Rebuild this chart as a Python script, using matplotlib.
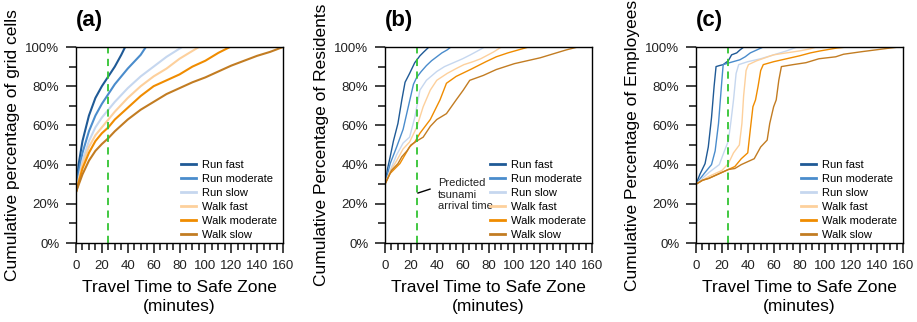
import matplotlib
matplotlib.use('Agg')
import matplotlib.pyplot as plt
from matplotlib.ticker import MultipleLocator, FuncFormatter

plt.rcParams['font.family'] = ['Liberation Sans', 'DejaVu Sans']

labels = ['Run fast', 'Run moderate', 'Run slow', 'Walk fast', 'Walk moderate', 'Walk slow']
colors = ['#1f5a96', '#4a8ccc', '#c6d7ef', '#fdd09c', '#f08c00', '#c27c22']
arrival_time = 25

# (a) grid cells
a_run_fast_t = [0, 2, 5, 10, 15, 20, 25, 30, 35, 38]
a_run_fast_p = [26, 40, 52, 65, 74, 80, 85, 90, 96, 100]
a_run_mod_t = [0, 2, 5, 10, 15, 20, 25, 30, 40, 50, 54]
a_run_mod_p = [26, 36, 46, 57, 65, 71, 76, 81, 89, 96, 100]
a_run_slow_t = [0, 5, 10, 15, 20, 25, 30, 40, 50, 60, 70, 82]
a_run_slow_p = [26, 42, 52, 59, 64, 68, 72, 79, 85, 90, 95, 100]
a_walk_fast_t = [0, 5, 10, 15, 20, 25, 30, 40, 50, 60, 70, 80, 95]
a_walk_fast_p = [26, 40, 49, 55, 59, 63, 67, 74, 80, 85, 89, 94, 100]
a_walk_mod_t = [0, 5, 10, 15, 20, 25, 30, 40, 50, 60, 70, 80, 90, 100, 110, 119]
a_walk_mod_p = [26, 38, 46, 52, 56, 59, 63, 69, 75, 80, 83, 86, 90, 93, 97, 100]
a_walk_slow_t = [0, 5, 10, 15, 20, 25, 30, 40, 50, 60, 70, 80, 90, 100, 110, 120, 130, 140, 150, 160]
a_walk_slow_p = [26, 35, 42, 47, 50.5, 53.5, 57, 63, 68, 72, 76, 79, 82, 84.5, 87.5, 90.5, 93, 95.5, 97.5, 100]

# (b) residents
b_run_fast_t = [0, 2, 4, 6.5, 10, 13, 15.5, 19, 23, 27, 30, 34]
b_run_fast_p = [30, 38, 44, 52, 61, 73, 82, 86.5, 92, 95.5, 97.5, 100]
b_run_mod_t = [0, 4, 9, 14, 18, 22, 24.5, 28, 32, 36, 40, 44, 48, 51]
b_run_mod_p = [30, 40.5, 49, 58, 69.5, 81, 84.5, 87.5, 90.5, 93, 95, 97, 98.5, 100]
b_run_slow_t = [0, 4, 9, 14, 19, 23, 27, 32, 40, 46, 53, 60, 66, 73, 77]
b_run_slow_p = [30, 37, 45, 51, 54, 64, 78, 83, 87.5, 90, 92, 94, 96, 98.5, 100]
b_walk_fast_t = [0, 4, 9, 14, 19, 24.5, 29.5, 35, 40, 48, 55, 61, 68, 74, 84, 90]
b_walk_fast_p = [30, 36.5, 42, 48, 51.5, 59, 69.5, 78, 83, 86.5, 89, 91, 92.5, 94, 97.5, 100]
b_walk_mod_t = [0, 4, 11.5, 19, 23, 27, 35, 42.5, 47.5, 55, 66, 78, 86, 95, 103, 111]
b_walk_mod_p = [30, 35.5, 40.5, 49, 51.5, 56, 63, 73, 81.5, 85, 88.5, 92.5, 95, 97, 98.5, 100]
b_walk_slow_t = [0, 5, 10, 13, 17, 20, 24.5, 29.5, 35, 40, 47.5, 55, 60.5, 65.5, 76, 86, 100, 110, 120, 130, 140, 149]
b_walk_slow_p = [30, 37, 40.5, 44, 47, 50, 52, 54, 59.5, 63, 66, 73, 78, 83, 85.5, 88.5, 91.5, 93, 94.5, 96.5, 98.5, 100]

# (c) employees
c_run_fast_t = [0, 3, 7, 9.5, 12, 14, 15.5, 18, 21, 25, 27.5, 31.5, 34, 37]
c_run_fast_p = [30, 35, 40.5, 49, 64, 80, 90, 90.5, 91, 93, 96, 97, 98.5, 100]
c_run_mod_t = [0, 4, 7, 12, 14.8, 17.4, 20, 21, 26, 34, 38, 42, 47, 52]
c_run_mod_p = [30, 33.5, 36, 40, 47, 61, 83, 91, 92, 93.5, 95, 97, 98.5, 100]
c_run_slow_t = [0, 5, 10, 18, 22, 25, 27, 29, 31, 33, 40, 50, 60, 70, 78]
c_run_slow_p = [30, 33, 36, 40, 47, 52, 62, 73, 86.5, 91, 92.5, 94, 96, 98, 100]
c_walk_fast_t = [0, 5, 10, 20, 25, 29, 33.5, 35.5, 36.8, 38.7, 40.5, 47, 60, 70, 80, 88, 93]
c_walk_fast_p = [30, 32, 34, 37, 40.5, 46, 50, 61, 75, 88, 91, 93, 96, 97, 98, 99, 100]
c_walk_mod_t = [0, 5, 10, 20, 25, 30, 35, 40, 42, 44, 46, 48, 50, 52, 60, 70, 80, 88.5, 96, 109, 117]
c_walk_mod_p = [30, 32, 33, 36, 37.5, 39, 43, 46, 58, 69.5, 73, 80, 88, 91, 92.5, 94, 95.5, 97, 98, 99.5, 100]
c_walk_slow_t = [0, 5, 10, 20, 25, 30, 35, 40, 45, 50, 55, 57, 60, 62, 64, 66, 75, 85, 95, 108, 114, 128, 148, 157]
c_walk_slow_p = [30, 32, 33, 36, 37.5, 38, 40, 41.5, 43, 49, 52.5, 61, 69.5, 73, 83, 90, 91, 92, 94, 95, 96.3, 97.6, 99.3, 100]

panels = [
    ('(a)', 'Cumulative percentage of grid cells', 1.5,
     [(a_run_fast_t, a_run_fast_p), (a_run_mod_t, a_run_mod_p), (a_run_slow_t, a_run_slow_p),
      (a_walk_fast_t, a_walk_fast_p), (a_walk_mod_t, a_walk_mod_p), (a_walk_slow_t, a_walk_slow_p)]),
    ('(b)', 'Cumulative Percentage of Residents', 1.0,
     [(b_run_fast_t, b_run_fast_p), (b_run_mod_t, b_run_mod_p), (b_run_slow_t, b_run_slow_p),
      (b_walk_fast_t, b_walk_fast_p), (b_walk_mod_t, b_walk_mod_p), (b_walk_slow_t, b_walk_slow_p)]),
    ('(c)', 'Cumulative Percentage of Employees', 1.0,
     [(c_run_fast_t, c_run_fast_p), (c_run_mod_t, c_run_mod_p), (c_run_slow_t, c_run_slow_p),
      (c_walk_fast_t, c_walk_fast_p), (c_walk_mod_t, c_walk_mod_p), (c_walk_slow_t, c_walk_slow_p)]),
]

fig = plt.figure(figsize=(9.17, 3.22), dpi=100)
lefts = [76 / 917, 385 / 917, 696 / 917]

for left, (tag, ylab, lw, series) in zip(lefts, panels):
    ax = fig.add_axes([left, 79 / 322, 207 / 917, 196 / 322])
    for (t, p), c, lab in zip(series, colors, labels):
        ax.plot(t, p, color=c, lw=lw, label=lab)
    ax.axvline(arrival_time, color='#33c433', lw=1.3, dashes=(4, 3))
    ax.set_xlim(0, 160)
    ax.set_ylim(0, 100)
    ax.xaxis.set_major_locator(MultipleLocator(20))
    ax.xaxis.set_minor_locator(MultipleLocator(5))
    ax.yaxis.set_major_locator(MultipleLocator(20))
    ax.yaxis.set_minor_locator(MultipleLocator(10))
    ax.yaxis.set_major_formatter(FuncFormatter(lambda v, pos: '%d%%' % v))
    ax.tick_params(which='major', length=7, width=1.2, labelsize=9.5, colors='#222222', pad=5)
    ax.tick_params(which='minor', length=5, width=1.2, colors='#222222')
    for s in ax.spines.values():
        s.set_linewidth(1.0)
    ax.set_xlabel('Travel Time to Safe Zone\n(minutes)', fontsize=12.5, linespacing=1.3, labelpad=6)
    ax.set_ylabel(ylab, fontsize=12.5, labelpad=4)
    ax.text(0, 1.08, tag, transform=ax.transAxes, fontsize=16, fontweight='bold', va='bottom')
    leg = ax.legend(loc='lower right', bbox_to_anchor=(1.0, -0.015), frameon=False, fontsize=8,
                    labelspacing=0.35, handlelength=1.4, handletextpad=0.5, borderaxespad=0.15)
    for h in leg.get_lines():
        h.set_linewidth(2)
    if tag == '(b)':
        ax.plot([25.5, 34.8], [25.5, 27.5], color='black', lw=1)
        ax.text(41, 33, 'Predicted\ntsunami\narrival time', fontsize=8, va='top',
                linespacing=1.15, color='#222222')

fig.savefig('out.png', dpi=100)
